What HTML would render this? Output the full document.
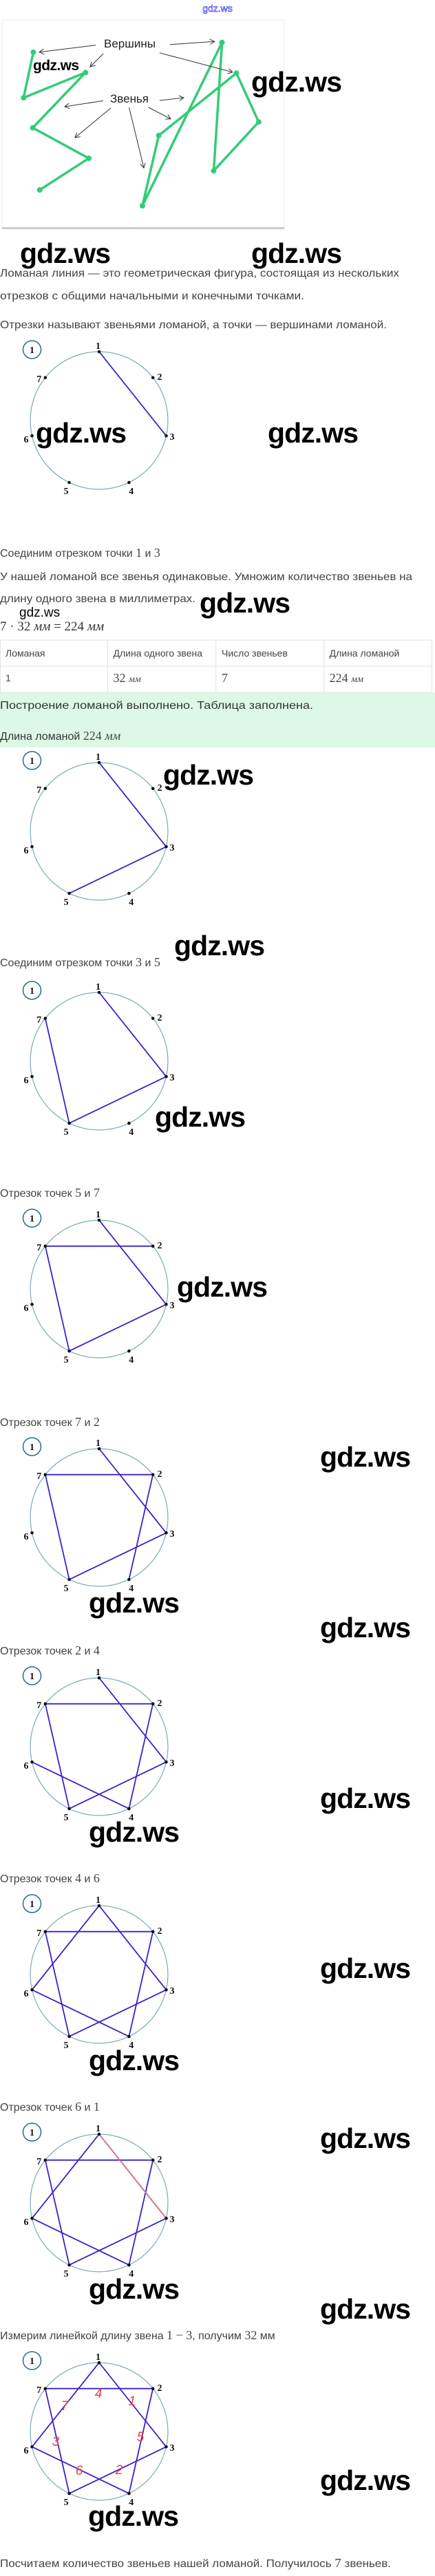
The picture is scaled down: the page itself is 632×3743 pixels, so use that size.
<!DOCTYPE html>
<html><head><meta charset="utf-8"><style>
body{margin:0;background:#fff}
svg{display:block}
.t{font-family:"Liberation Sans",sans-serif;font-size:16px;fill:#444}
.s{font-family:"Liberation Serif",serif;font-size:18px;fill:#444}
.wm{font-family:"Liberation Sans",sans-serif;font-weight:bold;font-size:41px;fill:#000}
.nl{font-family:"Liberation Serif",serif;font-weight:bold;font-size:14px;fill:#111;text-anchor:middle}
.ci{fill:none;stroke:#7aa9b5;stroke-width:1.2}
.bd{fill:none;stroke:#2d6a85;stroke-width:1.5}
.ln{stroke:#3a22c8;stroke-width:1.8;fill:none}
.dt{fill:#111}
.gr{stroke:#33cc77;stroke-width:3.5;fill:none;stroke-linejoin:round}
.gd{fill:#33cc77}
.ar{stroke:#333;stroke-width:1;fill:none;marker-end:url(#ah)}
.rd{font-family:"Liberation Sans",sans-serif;font-size:19px;fill:#e8404a;font-style:italic}
</style></head><body>
<svg width="632" height="3743" viewBox="0 0 632 3743" xmlns="http://www.w3.org/2000/svg">
<defs><marker id="ah" markerWidth="8" markerHeight="8" refX="7" refY="4" orient="auto"><path d="M0,0 L7,4 L0,8" fill="none" stroke="#333" stroke-width="1"/></marker></defs>
<rect width="632" height="3743" fill="#fff"/>
<text x="316" y="17" text-anchor="middle" font-family="Liberation Sans,sans-serif" font-size="14" fill="#fff" stroke="#4444ee" stroke-width="0.7">gdz.ws</text>

<rect x="3" y="29" width="410" height="302" fill="#fff" stroke="#eee"/>
<rect x="3" y="330" width="410" height="3" fill="#ccc"/>
<path class="gr" d="M48.4 75.9 L34.3 142 L124.2 105.4 L47.6 185.7 L129 230 L57.7 276"/>
<path class="gr" d="M230.6 196.9 L206.9 299 L322.6 61.6 L310.5 248.2 L375.8 177.2 L343.5 106.3 Z"/>
<g class="gd"><circle cx="48.4" cy="75.9" r="4"/><circle cx="34.3" cy="142" r="4"/><circle cx="124.2" cy="105.4" r="4"/><circle cx="47.6" cy="185.7" r="4"/><circle cx="129" cy="230" r="4"/><circle cx="57.7" cy="276" r="4"/><circle cx="230.6" cy="196.9" r="4"/><circle cx="206.9" cy="299" r="4"/><circle cx="322.6" cy="61.6" r="4"/><circle cx="310.5" cy="248.2" r="4"/><circle cx="375.8" cy="177.2" r="4"/><circle cx="343.5" cy="106.3" r="4"/></g>
<text x="151" y="69" font-family="Liberation Sans,sans-serif" font-size="17" fill="#222">Вершины</text>
<text x="160" y="149" font-family="Liberation Sans,sans-serif" font-size="17" fill="#222">Звенья</text>
<path class="ar" d="M139 65.6 L57 75.8"/><path class="ar" d="M150 78 L131 97"/><path class="ar" d="M246.8 64.7 L311.7 60.3"/><path class="ar" d="M231.9 76.8 L337.9 104.9"/>
<path class="ar" d="M150 146.4 L94 155"/><path class="ar" d="M161 157 L109 200"/><path class="ar" d="M187.5 156 L209 244"/><path class="ar" d="M215.7 156 L248 172.8"/><path class="ar" d="M231.9 146 L267 142"/>
<text x="48" y="102" font-family="Liberation Sans,sans-serif" font-weight="bold" font-size="21" textLength="67">gdz.ws</text>

<text class="t" x="0" y="402" textLength="580" lengthAdjust="spacingAndGlyphs">Ломаная линия — это геометрическая фигура, состоящая из нескольких</text>
<text class="t" x="0" y="435" textLength="442" lengthAdjust="spacingAndGlyphs">отрезков с общими начальными и конечными точками.</text>
<text class="t" x="0" y="477" textLength="562" lengthAdjust="spacingAndGlyphs">Отрезки называют звеньями ломаной, а точки — вершинами ломаной.</text>

<text class="t" x="0" y="809">Соединим отрезком точки <tspan class="s">1</tspan> и <tspan class="s">3</tspan></text>
<text class="t" x="0" y="843" textLength="599" lengthAdjust="spacingAndGlyphs">У нашей ломаной все звенья одинаковые. Умножим количество звеньев на</text>
<text class="t" x="0" y="875" textLength="284" lengthAdjust="spacingAndGlyphs">длину одного звена в миллиметрах.</text>
<text x="28" y="896" font-family="Liberation Sans,sans-serif" font-size="19" fill="#000">gdz.ws</text>
<text x="0" y="916" font-family="Liberation Serif,serif" font-size="19" fill="#333">7 · 32 <tspan font-style="italic">мм</tspan> = 224 <tspan font-style="italic">мм</tspan></text>

<rect x="0.5" y="930" width="627" height="76" fill="#fff" stroke="#e2e2e2"/>
<path d="M0 968 H628 M156.5 930 V1006 M313.7 930 V1006 M471 930 V1006" stroke="#e2e2e2"/>
<g class="t" style="font-size:14px"><text x="8" y="954">Ломаная</text><text x="164.5" y="954">Длина одного звена</text><text x="322" y="954">Число звеньев</text><text x="478.6" y="954">Длина ломаной</text><text x="8" y="990">1</text></g>
<g class="s"><text x="164.5" y="991">32 <tspan font-style="italic" font-size="14">мм</tspan></text><text x="322" y="991">7</text><text x="478.6" y="991">224 <tspan font-style="italic" font-size="14">мм</tspan></text></g>
<rect x="0" y="1006" width="632" height="80" fill="#ddf8e6"/>
<text class="t" x="0" y="1030" style="font-size:16px;fill:#333" textLength="455" lengthAdjust="spacingAndGlyphs">Построение ломаной выполнено. Таблица заполнена.</text>
<text class="t" x="0" y="1075" style="font-size:16px;fill:#333">Длина ломаной <tspan class="s" style="font-size:18px">224 <tspan font-style="italic">мм</tspan></tspan></text>

<text class="t" x="0" y="1404">Соединим отрезком точки <tspan class="s">3</tspan> и <tspan class="s">5</tspan></text>
<text class="t" x="0" y="1739">Отрезок точек <tspan class="s">5</tspan> и <tspan class="s">7</tspan></text>
<text class="t" x="0" y="2072">Отрезок точек <tspan class="s">7</tspan> и <tspan class="s">2</tspan></text>
<text class="t" x="0" y="2404">Отрезок точек <tspan class="s">2</tspan> и <tspan class="s">4</tspan></text>
<text class="t" x="0" y="2735">Отрезок точек <tspan class="s">4</tspan> и <tspan class="s">6</tspan></text>
<text class="t" x="0" y="3067">Отрезок точек <tspan class="s">6</tspan> и <tspan class="s">1</tspan></text>
<text class="t" x="0" y="3399">Измерим линейкой длину звена <tspan class="s">1 − 3</tspan>, получим <tspan class="s">32</tspan> мм</text>
<text class="t" x="0" y="3730" textLength="568" lengthAdjust="spacingAndGlyphs">Посчитаем количество звеньев нашей ломаной. Получилось <tspan class="s">7</tspan> звеньев.</text>

<g transform="translate(0,511)"><circle class="ci" cx="144" cy="100" r="100"/><circle class="bd" cx="46.5" cy="-3" r="13"/><text class="nl" x="46.5" y="2">1</text>
<path class="ln" d="M144 0 L241.5 122.3"/>
<g class="dt"><circle cx="144" cy="0" r="2.3"/><circle cx="222.2" cy="37.7" r="2.3"/><circle cx="241.5" cy="122.3" r="2.3"/><circle cx="187.4" cy="190.1" r="2.3"/><circle cx="100.6" cy="190.1" r="2.3"/><circle cx="46.5" cy="122.3" r="2.3"/><circle cx="65.8" cy="37.7" r="2.3"/></g>
<text class="nl" x="142.5" y="-4">1</text><text class="nl" x="232" y="41">2</text><text class="nl" x="250" y="128">3</text><text class="nl" x="190.7" y="207">4</text><text class="nl" x="96" y="207">5</text><text class="nl" x="38" y="132">6</text><text class="nl" x="56.7" y="44">7</text></g>

<g transform="translate(0,1108)"><circle class="ci" cx="144" cy="100" r="100"/><circle class="bd" cx="46.5" cy="-3" r="13"/><text class="nl" x="46.5" y="2">1</text>
<path class="ln" d="M144 0 L241.5 122.3 L100.6 190.1"/>
<g class="dt"><circle cx="144" cy="0" r="2.3"/><circle cx="222.2" cy="37.7" r="2.3"/><circle cx="241.5" cy="122.3" r="2.3"/><circle cx="187.4" cy="190.1" r="2.3"/><circle cx="100.6" cy="190.1" r="2.3"/><circle cx="46.5" cy="122.3" r="2.3"/><circle cx="65.8" cy="37.7" r="2.3"/></g>
<text class="nl" x="142.5" y="-4">1</text><text class="nl" x="232" y="41">2</text><text class="nl" x="250" y="128">3</text><text class="nl" x="190.7" y="207">4</text><text class="nl" x="96" y="207">5</text><text class="nl" x="38" y="132">6</text><text class="nl" x="56.7" y="44">7</text></g>

<g transform="translate(0,1442)"><circle class="ci" cx="144" cy="100" r="100"/><circle class="bd" cx="46.5" cy="-3" r="13"/><text class="nl" x="46.5" y="2">1</text>
<path class="ln" d="M144 0 L241.5 122.3 L100.6 190.1 L65.8 37.7"/>
<g class="dt"><circle cx="144" cy="0" r="2.3"/><circle cx="222.2" cy="37.7" r="2.3"/><circle cx="241.5" cy="122.3" r="2.3"/><circle cx="187.4" cy="190.1" r="2.3"/><circle cx="100.6" cy="190.1" r="2.3"/><circle cx="46.5" cy="122.3" r="2.3"/><circle cx="65.8" cy="37.7" r="2.3"/></g>
<text class="nl" x="142.5" y="-4">1</text><text class="nl" x="232" y="41">2</text><text class="nl" x="250" y="128">3</text><text class="nl" x="190.7" y="207">4</text><text class="nl" x="96" y="207">5</text><text class="nl" x="38" y="132">6</text><text class="nl" x="56.7" y="44">7</text></g>

<g transform="translate(0,1773)"><circle class="ci" cx="144" cy="100" r="100"/><circle class="bd" cx="46.5" cy="-3" r="13"/><text class="nl" x="46.5" y="2">1</text>
<path class="ln" d="M144 0 L241.5 122.3 L100.6 190.1 L65.8 37.7 L222.2 37.7"/>
<g class="dt"><circle cx="144" cy="0" r="2.3"/><circle cx="222.2" cy="37.7" r="2.3"/><circle cx="241.5" cy="122.3" r="2.3"/><circle cx="187.4" cy="190.1" r="2.3"/><circle cx="100.6" cy="190.1" r="2.3"/><circle cx="46.5" cy="122.3" r="2.3"/><circle cx="65.8" cy="37.7" r="2.3"/></g>
<text class="nl" x="142.5" y="-4">1</text><text class="nl" x="232" y="41">2</text><text class="nl" x="250" y="128">3</text><text class="nl" x="190.7" y="207">4</text><text class="nl" x="96" y="207">5</text><text class="nl" x="38" y="132">6</text><text class="nl" x="56.7" y="44">7</text></g>

<g transform="translate(0,2105)"><circle class="ci" cx="144" cy="100" r="100"/><circle class="bd" cx="46.5" cy="-3" r="13"/><text class="nl" x="46.5" y="2">1</text>
<path class="ln" d="M144 0 L241.5 122.3 L100.6 190.1 L65.8 37.7 L222.2 37.7 L187.4 190.1"/>
<g class="dt"><circle cx="144" cy="0" r="2.3"/><circle cx="222.2" cy="37.7" r="2.3"/><circle cx="241.5" cy="122.3" r="2.3"/><circle cx="187.4" cy="190.1" r="2.3"/><circle cx="100.6" cy="190.1" r="2.3"/><circle cx="46.5" cy="122.3" r="2.3"/><circle cx="65.8" cy="37.7" r="2.3"/></g>
<text class="nl" x="142.5" y="-4">1</text><text class="nl" x="232" y="41">2</text><text class="nl" x="250" y="128">3</text><text class="nl" x="190.7" y="207">4</text><text class="nl" x="96" y="207">5</text><text class="nl" x="38" y="132">6</text><text class="nl" x="56.7" y="44">7</text></g>

<g transform="translate(0,2438)"><circle class="ci" cx="144" cy="100" r="100"/><circle class="bd" cx="46.5" cy="-3" r="13"/><text class="nl" x="46.5" y="2">1</text>
<path class="ln" d="M144 0 L241.5 122.3 L100.6 190.1 L65.8 37.7 L222.2 37.7 L187.4 190.1 L46.5 122.3"/>
<g class="dt"><circle cx="144" cy="0" r="2.3"/><circle cx="222.2" cy="37.7" r="2.3"/><circle cx="241.5" cy="122.3" r="2.3"/><circle cx="187.4" cy="190.1" r="2.3"/><circle cx="100.6" cy="190.1" r="2.3"/><circle cx="46.5" cy="122.3" r="2.3"/><circle cx="65.8" cy="37.7" r="2.3"/></g>
<text class="nl" x="142.5" y="-4">1</text><text class="nl" x="232" y="41">2</text><text class="nl" x="250" y="128">3</text><text class="nl" x="190.7" y="207">4</text><text class="nl" x="96" y="207">5</text><text class="nl" x="38" y="132">6</text><text class="nl" x="56.7" y="44">7</text></g>

<g transform="translate(0,2769)"><circle class="ci" cx="144" cy="100" r="100"/><circle class="bd" cx="46.5" cy="-3" r="13"/><text class="nl" x="46.5" y="2">1</text>
<path class="ln" d="M144 0 L241.5 122.3 L100.6 190.1 L65.8 37.7 L222.2 37.7 L187.4 190.1 L46.5 122.3 Z"/>
<g class="dt"><circle cx="144" cy="0" r="2.3"/><circle cx="222.2" cy="37.7" r="2.3"/><circle cx="241.5" cy="122.3" r="2.3"/><circle cx="187.4" cy="190.1" r="2.3"/><circle cx="100.6" cy="190.1" r="2.3"/><circle cx="46.5" cy="122.3" r="2.3"/><circle cx="65.8" cy="37.7" r="2.3"/></g>
<text class="nl" x="142.5" y="-4">1</text><text class="nl" x="232" y="41">2</text><text class="nl" x="250" y="128">3</text><text class="nl" x="190.7" y="207">4</text><text class="nl" x="96" y="207">5</text><text class="nl" x="38" y="132">6</text><text class="nl" x="56.7" y="44">7</text></g>

<g transform="translate(0,3101)"><circle class="ci" cx="144" cy="100" r="100"/><circle class="bd" cx="46.5" cy="-3" r="13"/><text class="nl" x="46.5" y="2">1</text>
<path class="ln" d="M144 0 L241.5 122.3 L100.6 190.1 L65.8 37.7 L222.2 37.7 L187.4 190.1 L46.5 122.3 Z"/>
<path d="M144 0 L241.5 122.3" stroke="#d97a8a" stroke-width="1.8" fill="none"/>
<g class="dt"><circle cx="144" cy="0" r="2.3"/><circle cx="222.2" cy="37.7" r="2.3"/><circle cx="241.5" cy="122.3" r="2.3"/><circle cx="187.4" cy="190.1" r="2.3"/><circle cx="100.6" cy="190.1" r="2.3"/><circle cx="46.5" cy="122.3" r="2.3"/><circle cx="65.8" cy="37.7" r="2.3"/></g>
<text class="nl" x="142.5" y="-4">1</text><text class="nl" x="232" y="41">2</text><text class="nl" x="250" y="128">3</text><text class="nl" x="190.7" y="207">4</text><text class="nl" x="96" y="207">5</text><text class="nl" x="38" y="132">6</text><text class="nl" x="56.7" y="44">7</text></g>

<g transform="translate(0,3433)"><circle class="ci" cx="144" cy="100" r="100"/><circle class="bd" cx="46.5" cy="-3" r="13"/><text class="nl" x="46.5" y="2">1</text>
<path class="ln" d="M144 0 L241.5 122.3 L100.6 190.1 L65.8 37.7 L222.2 37.7 L187.4 190.1 L46.5 122.3 Z"/>
<g class="dt"><circle cx="144" cy="0" r="2.3"/><circle cx="222.2" cy="37.7" r="2.3"/><circle cx="241.5" cy="122.3" r="2.3"/><circle cx="187.4" cy="190.1" r="2.3"/><circle cx="100.6" cy="190.1" r="2.3"/><circle cx="46.5" cy="122.3" r="2.3"/><circle cx="65.8" cy="37.7" r="2.3"/></g>
<text class="nl" x="142.5" y="-4">1</text><text class="nl" x="232" y="41">2</text><text class="nl" x="250" y="128">3</text><text class="nl" x="190.7" y="207">4</text><text class="nl" x="96" y="207">5</text><text class="nl" x="38" y="132">6</text><text class="nl" x="56.7" y="44">7</text>
<g class="rd" text-anchor="middle"><text x="143" y="51">4</text><text x="192" y="62">1</text><text x="204" y="114">5</text><text x="173" y="162">2</text><text x="115" y="163">6</text><text x="81" y="121">3</text><text x="94" y="69">7</text></g></g>

<g class="wm">
<text x="365" y="133" textLength="132">gdz.ws</text>
<text x="29" y="382" textLength="132">gdz.ws</text>
<text x="365" y="382" textLength="132">gdz.ws</text>
<text x="52" y="643" textLength="132">gdz.ws</text>
<text x="389" y="643" textLength="132">gdz.ws</text>
<text x="290" y="890" textLength="132">gdz.ws</text>
<text x="237" y="1140" textLength="132">gdz.ws</text>
<text x="253" y="1388" textLength="132">gdz.ws</text>
<text x="225" y="1637" textLength="132">gdz.ws</text>
<text x="257" y="1884" textLength="132">gdz.ws</text>
<text x="465" y="2131" textLength="132">gdz.ws</text>
<text x="129" y="2343" textLength="132">gdz.ws</text>
<text x="465" y="2379" textLength="132">gdz.ws</text>
<text x="465" y="2627" textLength="132">gdz.ws</text>
<text x="129" y="2676" textLength="132">gdz.ws</text>
<text x="465" y="2874" textLength="132">gdz.ws</text>
<text x="129" y="3008" textLength="132">gdz.ws</text>
<text x="465" y="3121" textLength="132">gdz.ws</text>
<text x="129" y="3340" textLength="132">gdz.ws</text>
<text x="465" y="3369" textLength="132">gdz.ws</text>
<text x="465" y="3618" textLength="132">gdz.ws</text>
<text x="128" y="3670" textLength="132">gdz.ws</text>
</g>
</svg>
</body></html>
